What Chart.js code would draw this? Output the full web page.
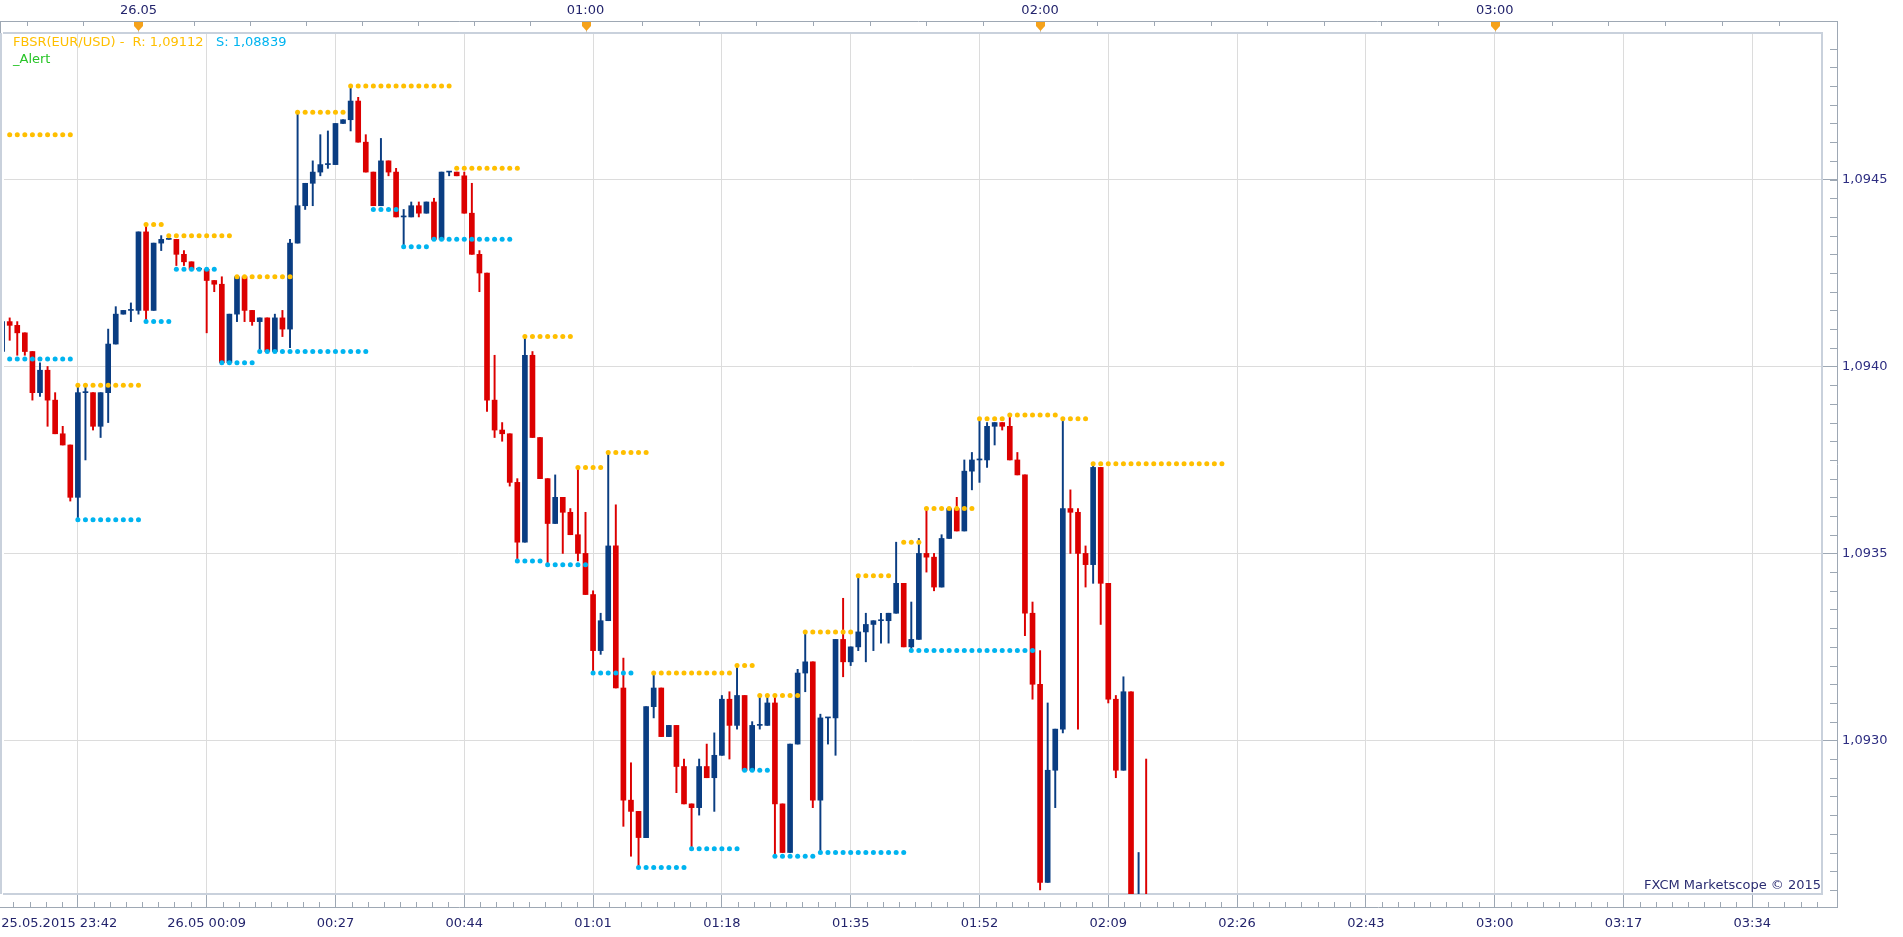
<!DOCTYPE html>
<html>
<head>
<meta charset="utf-8">
<title>EUR/USD m1 - FBSR</title>
<script src="https://cdn.jsdelivr.net/npm/chart.js@4.4.1/dist/chart.umd.min.js"></script>
<style>
  html, body { margin: 0; padding: 0; background: #fff; }
  #wrap { position: relative; width: 1903px; height: 937px; }
</style>
</head>
<body>
<div id="wrap"><canvas id="chart"></canvas></div>
<script>
// EUR/USD 1-minute candles. bar number 0 sits on the "25.05.2015 23:42" grid line
const firstBar = -10;

const opens = [
  1.09404, 1.09412, 1.09411, 1.09409, 1.09404, 1.09393, 1.09399, 1.09391, 1.09382, 1.09379,
  1.09365, 1.09393, 1.09393, 1.09384, 1.09393, 1.09406, 1.09414, 1.09415, 1.09415, 1.09436,
  1.09415, 1.09433, 1.09434, 1.09434, 1.09430, 1.09428, 1.09426, 1.09426, 1.09423, 1.09422,
  1.09401, 1.09414, 1.09424, 1.09415, 1.09412, 1.09413, 1.09404, 1.09413, 1.09410, 1.09433,
  1.09443, 1.09449, 1.09452, 1.09454, 1.09454, 1.09465, 1.09466, 1.09471, 1.09460, 1.09452,
  1.09443, 1.09455, 1.09452, 1.09440, 1.09440, 1.09443, 1.09441, 1.09444, 1.09434, 1.09452,
  1.09452, 1.09451, 1.09441, 1.09430, 1.09425, 1.09391, 1.09383, 1.09382, 1.09369, 1.09353,
  1.09403, 1.09381, 1.09370, 1.09358, 1.09365, 1.09361, 1.09355, 1.09350, 1.09339, 1.09324,
  1.09332, 1.09352, 1.09314, 1.09284, 1.09281, 1.09274, 1.09309, 1.09314, 1.09301, 1.09304,
  1.09293, 1.09283, 1.09282, 1.09293, 1.09290, 1.09296, 1.09311, 1.09304, 1.09312, 1.09292,
  1.09304, 1.09304, 1.09310, 1.09283, 1.09270, 1.09299, 1.09318, 1.09321, 1.09284, 1.09306,
  1.09306, 1.09327, 1.09321, 1.09325, 1.09329, 1.09331, 1.09332, 1.09332, 1.09334, 1.09342,
  1.09325, 1.09327, 1.09350, 1.09349, 1.09341, 1.09354, 1.09362, 1.09356, 1.09372, 1.09375,
  1.09375, 1.09384, 1.09385, 1.09384, 1.09375, 1.09371, 1.09334, 1.09315, 1.09262, 1.09292,
  1.09303, 1.09362, 1.09361, 1.09350, 1.09347, 1.09373, 1.09342, 1.09311, 1.09292, 1.09313,
  1.09253, 1.09258
];
const highs = [
  1.09413, 1.09413, 1.09412, 1.09409, 1.09404, 1.09401, 1.09400, 1.09393, 1.09384, 1.09379,
  1.09395, 1.09395, 1.09393, 1.09393, 1.09410, 1.09416, 1.09415, 1.09417, 1.09436, 1.09438,
  1.09433, 1.09435, 1.09434, 1.09434, 1.09431, 1.09428, 1.09426, 1.09426, 1.09423, 1.09424,
  1.09414, 1.09424, 1.09424, 1.09415, 1.09413, 1.09413, 1.09414, 1.09415, 1.09434, 1.09468,
  1.09449, 1.09455, 1.09462, 1.09463, 1.09465, 1.09466, 1.09475, 1.09472, 1.09462, 1.09452,
  1.09461, 1.09455, 1.09453, 1.09442, 1.09444, 1.09444, 1.09444, 1.09445, 1.09452, 1.09452,
  1.09452, 1.09452, 1.09449, 1.09431, 1.09425, 1.09403, 1.09385, 1.09382, 1.09370, 1.09408,
  1.09404, 1.09381, 1.09370, 1.09371, 1.09365, 1.09362, 1.09373, 1.09361, 1.09340, 1.09334,
  1.09377, 1.09363, 1.09322, 1.09294, 1.09281, 1.09309, 1.09318, 1.09314, 1.09304, 1.09304,
  1.09295, 1.09283, 1.09295, 1.09299, 1.09302, 1.09312, 1.09313, 1.09320, 1.09312, 1.09305,
  1.09312, 1.09312, 1.09312, 1.09283, 1.09299, 1.09319, 1.09329, 1.09321, 1.09307, 1.09306,
  1.09327, 1.09338, 1.09325, 1.09344, 1.09334, 1.09332, 1.09334, 1.09334, 1.09353, 1.09342,
  1.09337, 1.09354, 1.09362, 1.09350, 1.09355, 1.09362, 1.09365, 1.09375, 1.09377, 1.09386,
  1.09385, 1.09385, 1.09385, 1.09387, 1.09377, 1.09371, 1.09337, 1.09324, 1.09310, 1.09303,
  1.09386, 1.09367, 1.09362, 1.09352, 1.09374, 1.09373, 1.09342, 1.09312, 1.09317, 1.09313,
  1.09270, 1.09295
];
const lows = [
  1.09403, 1.09407, 1.09403, 1.09403, 1.09391, 1.09392, 1.09384, 1.09382, 1.09379, 1.09364,
  1.09359, 1.09375, 1.09383, 1.09381, 1.09385, 1.09406, 1.09414, 1.09412, 1.09414, 1.09412,
  1.09415, 1.09431, 1.09434, 1.09427, 1.09427, 1.09426, 1.09426, 1.09409, 1.09420, 1.09401,
  1.09401, 1.09412, 1.09412, 1.09411, 1.09404, 1.09404, 1.09404, 1.09408, 1.09405, 1.09433,
  1.09442, 1.09443, 1.09451, 1.09453, 1.09454, 1.09465, 1.09463, 1.09460, 1.09452, 1.09443,
  1.09443, 1.09451, 1.09440, 1.09432, 1.09440, 1.09440, 1.09441, 1.09434, 1.09434, 1.09451,
  1.09451, 1.09441, 1.09430, 1.09420, 1.09388, 1.09381, 1.09380, 1.09368, 1.09348, 1.09353,
  1.09381, 1.09370, 1.09347, 1.09358, 1.09350, 1.09355, 1.09348, 1.09339, 1.09318, 1.09323,
  1.09332, 1.09314, 1.09277, 1.09269, 1.09266, 1.09274, 1.09306, 1.09301, 1.09301, 1.09286,
  1.09283, 1.09271, 1.09280, 1.09290, 1.09281, 1.09296, 1.09295, 1.09303, 1.09292, 1.09292,
  1.09303, 1.09304, 1.09269, 1.09270, 1.09270, 1.09299, 1.09313, 1.09282, 1.09270, 1.09299,
  1.09296, 1.09317, 1.09320, 1.09324, 1.09321, 1.09324, 1.09326, 1.09326, 1.09334, 1.09325,
  1.09324, 1.09327, 1.09345, 1.09340, 1.09341, 1.09354, 1.09356, 1.09356, 1.09367, 1.09369,
  1.09373, 1.09379, 1.09383, 1.09375, 1.09371, 1.09328, 1.09311, 1.09260, 1.09262, 1.09282,
  1.09302, 1.09350, 1.09303, 1.09341, 1.09342, 1.09331, 1.09310, 1.09290, 1.09292, 1.09252,
  1.09250, 1.09252
];
const closes = [
  1.09412, 1.09411, 1.09409, 1.09404, 1.09393, 1.09399, 1.09391, 1.09382, 1.09379, 1.09365,
  1.09393, 1.09393, 1.09384, 1.09393, 1.09406, 1.09414, 1.09415, 1.09415, 1.09436, 1.09415,
  1.09433, 1.09434, 1.09434, 1.09430, 1.09428, 1.09426, 1.09426, 1.09423, 1.09422, 1.09401,
  1.09414, 1.09424, 1.09415, 1.09412, 1.09413, 1.09404, 1.09413, 1.09410, 1.09433, 1.09443,
  1.09449, 1.09452, 1.09454, 1.09454, 1.09465, 1.09466, 1.09471, 1.09460, 1.09452, 1.09443,
  1.09455, 1.09452, 1.09440, 1.09440, 1.09443, 1.09441, 1.09444, 1.09434, 1.09452, 1.09452,
  1.09451, 1.09441, 1.09430, 1.09425, 1.09391, 1.09383, 1.09382, 1.09369, 1.09353, 1.09403,
  1.09381, 1.09370, 1.09358, 1.09365, 1.09361, 1.09355, 1.09350, 1.09339, 1.09324, 1.09332,
  1.09352, 1.09314, 1.09284, 1.09281, 1.09274, 1.09309, 1.09314, 1.09301, 1.09304, 1.09293,
  1.09283, 1.09282, 1.09293, 1.09290, 1.09296, 1.09311, 1.09304, 1.09312, 1.09292, 1.09304,
  1.09304, 1.09310, 1.09283, 1.09270, 1.09299, 1.09318, 1.09321, 1.09284, 1.09306, 1.09306,
  1.09327, 1.09321, 1.09325, 1.09329, 1.09331, 1.09332, 1.09332, 1.09334, 1.09342, 1.09325,
  1.09327, 1.09350, 1.09349, 1.09341, 1.09354, 1.09362, 1.09356, 1.09372, 1.09375, 1.09375,
  1.09384, 1.09385, 1.09384, 1.09375, 1.09371, 1.09334, 1.09315, 1.09262, 1.09292, 1.09303,
  1.09362, 1.09361, 1.09350, 1.09347, 1.09373, 1.09342, 1.09311, 1.09292, 1.09313, 1.09255,
  1.09256, 1.09255
];

// FBSR resistance / support levels: first bar, last bar, price
const resFrom  = [-9, 0, 9, 12, 21, 29, 36, 50, 59, 66, 70, 76, 87, 90, 96, 103, 109, 112, 119, 123, 130, 134];
const resTo    = [-1, 8, 11, 20, 28, 35, 49, 58, 65, 69, 75, 86, 89, 95, 102, 107, 111, 118, 122, 129, 133, 151];
const resLevel = [1.09462, 1.09395, 1.09438, 1.09435, 1.09424, 1.09468, 1.09475, 1.09453, 1.09408, 1.09373, 1.09377,
                  1.09318, 1.09320, 1.09312, 1.09329, 1.09344, 1.09353, 1.09362, 1.09386, 1.09387, 1.09386, 1.09374];
const supFrom  = [-9, 0, 9, 13, 19, 24, 39, 43, 47, 58, 62, 68, 74, 81, 88, 92, 98, 110];
const supTo    = [-1, 8, 12, 18, 23, 38, 42, 46, 57, 61, 67, 73, 80, 87, 91, 97, 109, 126];
const supLevel = [1.09402, 1.09359, 1.09412, 1.09426, 1.09401, 1.09404, 1.09442, 1.09432, 1.09434, 1.09348, 1.09347,
                  1.09318, 1.09266, 1.09271, 1.09292, 1.09269, 1.09270, 1.09324];

// axis ticks
const gridBars   = [0, 17, 34, 51, 68, 85, 102, 119, 136, 153, 170, 187, 204, 221];
const gridLabels = ['25.05.2015 23:42', '26.05 00:09', '00:27', '00:44', '01:01', '01:18', '01:35',
                    '01:52', '02:09', '02:26', '02:43', '03:00', '03:17', '03:34'];
const hourBars   = [8, 67, 127, 187];
const hourLabels = ['26.05', '01:00', '02:00', '03:00'];
const priceTicks = [1.0930, 1.0935, 1.0940, 1.0945];

const UP = '#0a3d82', DOWN = '#dc0000';
const GOLD = '#ffbf00', CYAN = '#00b4f0';
const FRAME = '#c9d1dc', AXIS = '#9ea8b4', GRID = '#dcdcdc', LABEL = '#23246c';
const FONT = { family: 'DejaVu Sans', size: 13 };

const bodies = [], wicks = [], bodyColors = [];
opens.forEach((o, k) => {
  const bar = firstBar + k;
  bodies.push({ x: bar, y: [o, closes[k]] });
  wicks.push({ x: bar, y: [lows[k], highs[k]] });
  bodyColors.push(closes[k] >= o ? UP : DOWN);
});

function levelDots(from, to, level) {
  const pts = [];
  from.forEach((f, k) => {
    for (let b = f; b <= to[k]; b++) pts.push({ x: b, y: level[k] });
  });
  return pts;
}

const xMin = -9.75, xMax = 230.2;

function fmtPrice(v) {
  return v.toFixed(4).replace('.', ',');
}

const decor = {
  id: 'decor',
  afterDraw(chart) {
    const { ctx, chartArea: a, scales } = chart;
    const x = scales.x, y = scales.y;
    const axisR = a.right + 15, axisB = a.bottom + 13, axisT = 21;
    ctx.save();

    // left frame edge
    ctx.strokeStyle = FRAME;
    ctx.lineWidth = 2;
    ctx.beginPath();
    ctx.moveTo(1, a.top); ctx.lineTo(1, a.bottom);
    ctx.stroke();

    // outer axis box
    ctx.strokeStyle = AXIS;
    ctx.lineWidth = 1;
    ctx.beginPath();
    ctx.moveTo(0, axisT + 0.5); ctx.lineTo(axisR, axisT + 0.5);
    ctx.moveTo(0.5, axisT); ctx.lineTo(0.5, a.top);
    ctx.moveTo(0, axisB + 0.5); ctx.lineTo(axisR + 1, axisB + 0.5);
    ctx.moveTo(axisR + 0.5, axisT); ctx.lineTo(axisR + 0.5, axisB + 1);
    ctx.stroke();

    // bottom minor ticks (8 per grid interval)
    const step = (gridBars[1] - gridBars[0]) / 8;
    ctx.beginPath();
    for (let k = Math.ceil(xMin / step); k * step <= xMax; k++) {
      if (k % 8 === 0) continue;
      const px = Math.round(x.getPixelForValue(k * step)) + 0.5;
      ctx.moveTo(px, axisB - 5); ctx.lineTo(px, axisB);
    }
    // right minor ticks every 0.00005
    for (let k = Math.ceil(y.min / 0.00005); k * 0.00005 <= y.max; k++) {
      const py = Math.round(y.getPixelForValue(k * 0.00005)) + 0.5;
      ctx.moveTo(axisR - 7, py); ctx.lineTo(axisR, py);
    }
    // top ticks: 8 per hour
    const topTicks = [];
    hourBars.forEach((h, k) => {
      if (k < hourBars.length - 1) {
        const d = (hourBars[k + 1] - h) / 8;
        for (let j = 0; j < 8; j++) topTicks.push(h + j * d);
      }
    });
    const d0 = (hourBars[1] - hourBars[0]) / 8;
    for (let t = hourBars[0] - d0; t >= xMin; t -= d0) topTicks.push(t);
    const dN = (hourBars[3] - hourBars[2]) / 8;
    for (let t = hourBars[3]; t <= xMax; t += dN) topTicks.push(t);
    topTicks.forEach(t => {
      const px = Math.round(x.getPixelForValue(t)) + 0.5;
      ctx.moveTo(px, axisT); ctx.lineTo(px, axisT + 5);
    });
    ctx.stroke();

    // hour markers
    hourBars.forEach(h => {
      const px = Math.round(x.getPixelForValue(h)) + 0.5;
      ctx.strokeStyle = '#c8c8c8';
      ctx.beginPath();
      ctx.moveTo(px, axisT + 8); ctx.lineTo(px, a.top);
      ctx.stroke();
      ctx.fillStyle = '#f5a21b';
      ctx.beginPath();
      ctx.moveTo(px - 4.5, axisT + 1);
      ctx.lineTo(px + 4.5, axisT + 1);
      ctx.lineTo(px + 4.5, axisT + 5);
      ctx.lineTo(px, axisT + 10);
      ctx.lineTo(px - 4.5, axisT + 5);
      ctx.closePath();
      ctx.fill();
    });

    // indicator caption
    ctx.font = '13px "DejaVu Sans"';
    ctx.textBaseline = 'middle';
    ctx.textAlign = 'left';
    const cap = 'FBSR(EUR/USD) -  R: 1,09112';
    ctx.fillStyle = GOLD;
    ctx.fillText(cap, a.left + 9, a.top + 10);
    ctx.fillStyle = CYAN;
    ctx.fillText('S: 1,08839', a.left + 9 + ctx.measureText(cap + '   ').width, a.top + 10);
    ctx.fillStyle = '#27c427';
    ctx.fillText('_Alert', a.left + 9, a.top + 27);

    // watermark
    ctx.fillStyle = '#2b2d72';
    ctx.textAlign = 'right';
    ctx.fillText('FXCM Marketscope \u00a9 2015', a.right - 1, a.bottom - 8);
    ctx.restore();
  }
};

new Chart(document.getElementById('chart'), {
  type: 'bar',
  data: {
    datasets: [
      {
        type: 'line', label: 'Resistance', data: levelDots(resFrom, resTo, resLevel),
        showLine: false, pointRadius: 2.5, pointBackgroundColor: GOLD, pointBorderWidth: 0,
        xAxisID: 'x', yAxisID: 'y', order: 0
      },
      {
        type: 'line', label: 'Support', data: levelDots(supFrom, supTo, supLevel),
        showLine: false, pointRadius: 2.5, pointBackgroundColor: CYAN, pointBorderWidth: 0,
        xAxisID: 'x', yAxisID: 'y', order: 0
      },
      {
        label: 'Body', data: bodies, backgroundColor: bodyColors, barThickness: 5,
        minBarLength: 1, grouped: false, xAxisID: 'x', yAxisID: 'y', order: 1
      },
      {
        label: 'Wick', data: wicks, backgroundColor: bodyColors, barThickness: 1.3,
        grouped: false, xAxisID: 'x', yAxisID: 'y', order: 2
      }
    ]
  },
  options: {
    responsive: true,
    maintainAspectRatio: false,
    animation: false,
    events: [],
    layout: { padding: 0 },
    plugins: { legend: { display: false }, tooltip: { enabled: false } },
    scales: {
      x: {
        type: 'linear', position: 'bottom', min: xMin, max: xMax, offset: false,
        grid: { color: GRID, lineWidth: 1, offset: false, tickLength: 13, tickColor: AXIS },
        border: { color: FRAME, width: 2 },
        ticks: {
          autoSkip: false, maxRotation: 0, padding: 9, color: LABEL, font: FONT,
          callback: (v, i) => i === 0 ? gridLabels[0] + '\u00a0'.repeat(9) : gridLabels[i]
        },
        afterBuildTicks: s => { s.ticks = gridBars.map(v => ({ value: v })); },
        afterFit: s => { s.height = 43; s.paddingLeft = 0; s.paddingRight = 0; }
      },
      x2: {
        type: 'linear', position: 'top', min: xMin, max: xMax, offset: false,
        grid: { display: false, drawTicks: false },
        border: { color: FRAME, width: 2 },
        ticks: {
          autoSkip: false, maxRotation: 0, padding: 15, color: LABEL, font: FONT,
          callback: (v, i) => hourLabels[i]
        },
        afterBuildTicks: s => { s.ticks = hourBars.map(v => ({ value: v })); },
        afterFit: s => { s.height = 33; s.paddingLeft = 0; s.paddingRight = 0; }
      },
      y: {
        type: 'linear', position: 'right', min: 1.092589, max: 1.094892,
        grid: { color: GRID, lineWidth: 1, tickLength: 15, tickColor: AXIS },
        border: { color: FRAME, width: 2 },
        ticks: {
          padding: 5, color: '#2e2e82', font: FONT,
          callback: v => fmtPrice(v)
        },
        afterBuildTicks: s => { s.ticks = priceTicks.map(v => ({ value: v })); },
        afterFit: s => { s.width = 81; s.paddingTop = 0; s.paddingBottom = 0; }
      }
    }
  },
  plugins: [decor]
});
</script>
</body>
</html>
